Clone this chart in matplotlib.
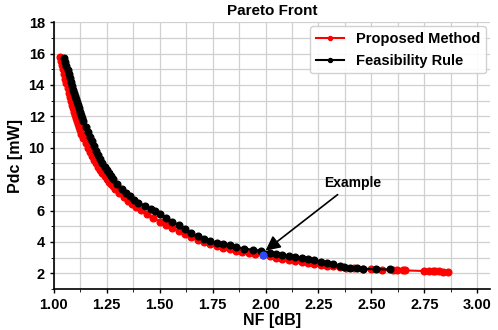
import matplotlib.pyplot as plt
from matplotlib.ticker import MultipleLocator

plt.rcParams["font.family"] = ["Liberation Sans", "DejaVu Sans"]
plt.rcParams["font.weight"] = "bold"

# Proposed Method front
nf_prop = [1.03, 1.035, 1.04, 1.045, 1.05, 1.055, 1.06, 1.065, 1.07, 1.075, 1.08,
           1.085, 1.09, 1.095, 1.10, 1.105, 1.11, 1.115, 1.12, 1.125, 1.13, 1.14,
           1.15, 1.16, 1.17, 1.18, 1.19, 1.20, 1.21, 1.22, 1.23, 1.24, 1.25, 1.26,
           1.27, 1.28, 1.29, 1.31, 1.33, 1.35, 1.37, 1.39, 1.41, 1.44, 1.47, 1.50,
           1.53, 1.56, 1.59, 1.62, 1.65, 1.68, 1.71, 1.74, 1.77, 1.80, 1.83, 1.86,
           1.89, 1.92, 1.95, 1.99, 2.02, 2.05, 2.08, 2.11, 2.14, 2.17, 2.20, 2.23,
           2.26, 2.29, 2.32, 2.35, 2.38, 2.42, 2.46, 2.50, 2.55, 2.60, 2.62, 2.65,
           2.66, 2.75, 2.77, 2.79, 2.80, 2.82, 2.84, 2.86]
pdc_prop = [15.8, 15.55, 15.3, 15.0, 14.7, 14.4, 14.1, 13.8, 13.5, 13.25, 13.0,
            12.75, 12.5, 12.3, 12.1, 11.9, 11.7, 11.5, 11.3, 11.1, 10.9, 10.6,
            10.3, 10.0, 9.7, 9.45, 9.2, 9.0, 8.8, 8.6, 8.4, 8.2, 8.0, 7.85,
            7.7, 7.55, 7.4, 7.1, 6.85, 6.6, 6.4, 6.2, 6.05, 5.8, 5.55, 5.3,
            5.08, 4.88, 4.68, 4.5, 4.3, 4.12, 3.98, 3.85, 3.73, 3.62, 3.53, 3.45,
            3.38, 3.3, 3.23, 3.15, 3.08, 3.0, 2.92, 2.85, 2.78, 2.72, 2.67, 2.6,
            2.56, 2.5, 2.45, 2.4, 2.37, 2.33, 2.3, 2.27, 2.24, 2.22, 2.21, 2.2,
            2.19, 2.15, 2.14, 2.14, 2.13, 2.12, 2.11, 2.1]

# Feasibility Rule front
nf_feas = [1.05, 1.055, 1.06, 1.065, 1.07, 1.075, 1.08, 1.085, 1.09, 1.095, 1.10,
           1.105, 1.11, 1.115, 1.12, 1.125, 1.13, 1.135, 1.14, 1.15, 1.16, 1.17,
           1.18, 1.19, 1.20, 1.21, 1.22, 1.23, 1.24, 1.25, 1.26, 1.27, 1.28, 1.30,
           1.32, 1.34, 1.36, 1.38, 1.40, 1.43, 1.46, 1.48, 1.50, 1.53, 1.56, 1.59,
           1.62, 1.65, 1.68, 1.71, 1.74, 1.77, 1.80, 1.83, 1.86, 1.90, 1.94, 1.98,
           2.02, 2.05, 2.08, 2.11, 2.14, 2.17, 2.20, 2.23, 2.26, 2.29, 2.32, 2.35,
           2.37, 2.40, 2.43, 2.46, 2.52, 2.59]
pdc_feas = [15.7, 15.45, 15.2, 14.95, 14.7, 14.45, 14.2, 13.95, 13.7, 13.5, 13.3,
            13.1, 12.9, 12.7, 12.5, 12.3, 12.1, 11.9, 11.7, 11.35, 11.0, 10.7,
            10.4, 10.1, 9.8, 9.55, 9.3, 9.05, 8.8, 8.6, 8.4, 8.2, 8.0, 7.7,
            7.4, 7.1, 6.9, 6.7, 6.5, 6.3, 6.1, 6.0, 5.8, 5.55, 5.3, 5.05,
            4.8, 4.55, 4.35, 4.2, 4.05, 3.95, 3.85, 3.78, 3.68, 3.58, 3.5, 3.45,
            3.32, 3.22, 3.15, 3.1, 3.05, 2.98, 2.92, 2.85, 2.75, 2.68, 2.6, 2.5,
            2.42, 2.36, 2.32, 2.29, 2.26, 2.25]

example_pt = (1.99, 3.2)


def main():
    fig = plt.figure(figsize=(4.98, 3.30), dpi=100)
    ax = fig.add_axes([0.108, 0.124, 0.876, 0.809])

    ax.plot(nf_prop, pdc_prop, "o-", color="red", lw=1.5, ms=4.8, label="Proposed Method")
    ax.plot(nf_feas, pdc_feas, "o-", color="black", lw=1.5, ms=4.8, label="Feasibility Rule")
    ax.plot(*example_pt, "o", color="#2b4bff", ms=4.8, zorder=5)

    ax.annotate("Example", xy=(2.0, 3.45), xytext=(2.41, 7.3),
                ha="center", va="bottom", fontsize=10, fontweight="bold",
                arrowprops=dict(arrowstyle="-|>", color="black", lw=1.2,
                                mutation_scale=22, shrinkA=2, shrinkB=0))

    ax.set_xlim(1.0, 3.06)
    ax.set_ylim(1, 18)
    ax.xaxis.set_major_locator(MultipleLocator(0.25))
    ax.xaxis.set_minor_locator(MultipleLocator(0.125))
    ax.yaxis.set_major_locator(MultipleLocator(2))
    ax.yaxis.set_minor_locator(MultipleLocator(1))
    ax.set_xticks([1.0, 1.25, 1.5, 1.75, 2.0, 2.25, 2.5, 2.75, 3.0])
    ax.grid(which="both", color="#d0d0d0", lw=0.9)
    ax.set_axisbelow(True)

    for side in ("top", "right"):
        ax.spines[side].set_visible(False)
    ax.spines["left"].set_linewidth(1.2)
    ax.spines["bottom"].set_linewidth(1.2)
    ax.tick_params(labelsize=10.5, length=3, width=1)
    ax.tick_params(which="minor", length=2)

    ax.set_title("Pareto Front", fontsize=11, fontweight="bold", pad=5)
    ax.set_xlabel("NF [dB]", fontsize=11.5, fontweight="bold", labelpad=1)
    ax.set_ylabel("Pdc [mW]", fontsize=11.5, fontweight="bold", labelpad=4)

    ax.legend(loc="upper right", markerscale=0.6,
              prop={"weight": "bold", "size": 10.5}, framealpha=0.9,
              handlelength=1.9, borderaxespad=0.3)

    fig.savefig("out.png", dpi=100)


if __name__ == "__main__":
    main()
